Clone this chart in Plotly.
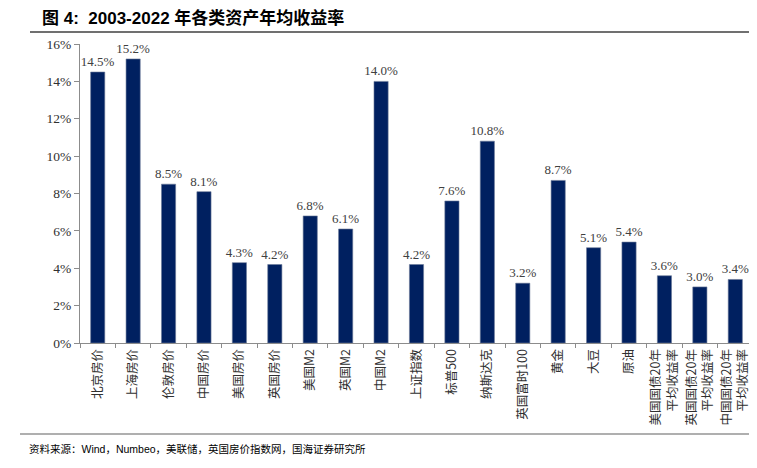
import plotly.graph_objects as go

categories = ["北京房价", "上海房价", "伦敦房价", "中国房价", "美国房价", "英国房价",
              "美国M2", "英国M2", "中国M2", "上证指数", "标普500", "纳斯达克",
              "英国富时100", "黄金", "大豆", "原油",
              "美国国债20年<br>平均收益率", "英国国债20年<br>平均收益率", "中国国债20年<br>平均收益率"]
values = [14.5, 15.2, 8.5, 8.1, 4.3, 4.2, 6.8, 6.1, 14.0, 4.2, 7.6, 10.8,
          3.2, 8.7, 5.1, 5.4, 3.6, 3.0, 3.4]
yticks = [0, 2, 4, 6, 8, 10, 12, 14, 16]
ytick_labels = [f"{v}%" for v in yticks]

title_text = "<b>图 4:  2003-2022 年各类资产年均收益率</b>"
source_text = "资料来源：Wind，Numbeo，美联储，英国房价指数网，国海证券研究所"

serif = "Liberation Serif, Times New Roman, serif"
cjk = "Noto Sans CJK SC, sans-serif"

fig = go.Figure(go.Bar(
    x=categories, y=values,
    marker=dict(color="#002060", line=dict(color="#6b7a99", width=0.6)),
    text=[f"{v:.1f}%" for v in values],
    textposition="outside",
    constraintext="none",
    textfont=dict(family=serif, size=13, color="#404040"),
    cliponaxis=False,
))

fig.update_layout(
    width=749, height=460,
    margin=dict(l=72, r=4, t=36, b=125),
    plot_bgcolor="white", paper_bgcolor="white",
    bargap=0.6,
    showlegend=False,
    xaxis=dict(
        type="category",
        tickangle=-90,
        automargin=False,
        tickfont=dict(family=cjk, size=12.5, color="#303030"),
        showline=True, linecolor="#8c8c8c", linewidth=1,
        ticks="outside", ticklen=4, tickcolor="#8c8c8c",
        tickson="boundaries",
        showgrid=False,
    ),
    yaxis=dict(
        range=[0, 16],
        automargin=False,
        tickvals=yticks, ticktext=ytick_labels,
        tickfont=dict(family=serif, size=13.5, color="#303030"),
        showline=True, linecolor="#8c8c8c", linewidth=1,
        ticks="outside", ticklen=5, tickcolor="#8c8c8c",
        showgrid=False, zeroline=False,
    ),
)

fig.add_annotation(text=title_text, xref="paper", yref="paper",
                   x=-40/673, y=1 + 26/299, xanchor="left", yanchor="middle",
                   showarrow=False,
                   font=dict(family="Liberation Sans, Noto Sans CJK SC, sans-serif", size=17, color="#000000"))
fig.add_annotation(text=source_text, xref="paper", yref="paper",
                   x=-53/673, y=-106/299, xanchor="left", yanchor="middle",
                   showarrow=False,
                   font=dict(family="Liberation Sans, Noto Sans CJK SC, sans-serif", size=10.5, color="#000000"))

fig.add_shape(type="line", xref="paper", yref="paper",
              x0=-50/673, x1=1 + 4/673, y0=1 + 12/299, y1=1 + 12/299,
              line=dict(color="#404040", width=1.5))
fig.add_shape(type="line", xref="paper", yref="paper",
              x0=-60/673, x1=1 + 4/673, y0=-91/299, y1=-91/299,
              line=dict(color="#606060", width=1.2))

fig.write_html("out.html")
